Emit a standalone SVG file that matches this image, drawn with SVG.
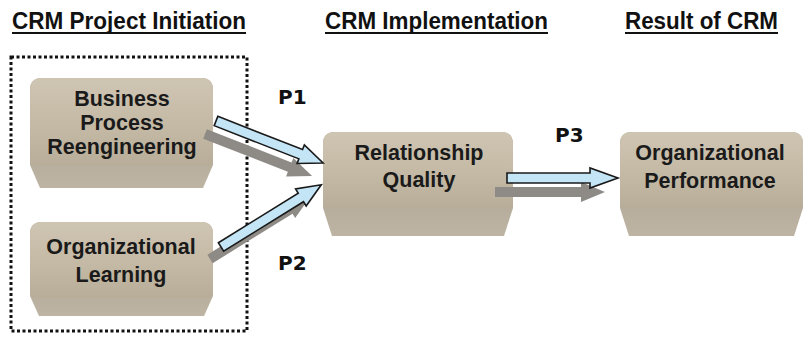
<svg xmlns="http://www.w3.org/2000/svg" width="806" height="337" viewBox="0 0 806 337">
<defs>
<linearGradient id="face" x1="0" y1="0" x2="0" y2="1">
<stop offset="0" stop-color="#cfc5b3"/>
<stop offset="0.6" stop-color="#c3b8a3"/>
<stop offset="1" stop-color="#b8ad98"/>
</linearGradient>
<linearGradient id="side" x1="0" y1="0" x2="0" y2="1">
<stop offset="0" stop-color="#a59b8a"/>
<stop offset="1" stop-color="#bdb4a4"/>
</linearGradient>
</defs>
<style>
.title{font-family:"Liberation Sans",Arial,sans-serif;font-weight:bold;font-size:23px;fill:#111}
.ul{stroke:#111;stroke-width:2}
.lbl{font-family:"Liberation Sans",Arial,sans-serif;font-weight:bold;font-size:21.5px;fill:#1a1a1a;text-anchor:middle}
.p{font-family:"DejaVu Sans",Verdana,sans-serif;font-weight:bold;font-size:20px;fill:#111}
.face{fill:url(#face)}
.side{fill:url(#side)}
.blue{fill:#c3e5f6;stroke:#1a1a1a;stroke-width:1.6;stroke-linejoin:miter}
.shadow{fill:#8e8b87}
</style>
<rect width="806" height="337" fill="#fff"/>

<g id="titles">
<text class="title" x="12" y="29" textLength="234" lengthAdjust="spacingAndGlyphs">CRM Project Initiation</text>
<line class="ul" x1="12" y1="33" x2="246" y2="33"/>
<text class="title" x="325" y="29" textLength="223" lengthAdjust="spacingAndGlyphs">CRM Implementation</text>
<line class="ul" x1="325" y1="33" x2="548" y2="33"/>
<text class="title" x="625" y="29" textLength="153" lengthAdjust="spacingAndGlyphs">Result of CRM</text>
<line class="ul" x1="625" y1="33" x2="778" y2="33"/>
</g>

<rect id="group-box" x="11" y="57" width="236" height="274" fill="none" stroke="#111" stroke-width="3" stroke-dasharray="3 2.5"/>

<g id="bpr">
<path class="side" d="M42,78 H201 Q213,78 213,90 V165 L203,188 H40 L30,165 V90 Q30,78 42,78 Z"/>
<path class="face" d="M42,78 H201 Q213,78 213,90 V160 Q213,166 207,166 H36 Q30,166 30,160 V90 Q30,78 42,78 Z"/>
<text class="lbl" x="122" y="106">Business</text>
<text class="lbl" x="122" y="130">Process</text>
<text class="lbl" x="122" y="154">Reengineering</text>
</g>

<g id="ol">
<path class="side" d="M42,222 H201 Q213,222 213,234 V296 L204,316 H39 L30,296 V234 Q30,222 42,222 Z"/>
<path class="face" d="M42,222 H201 Q213,222 213,234 V292 Q213,298 207,298 H36 Q30,298 30,292 V234 Q30,222 42,222 Z"/>
<text class="lbl" x="121" y="254">Organizational</text>
<text class="lbl" x="121" y="282">Learning</text>
</g>

<g id="rq">
<path class="side" d="M335,132 H501 Q513,132 513,144 V208 L504,236 H332 L323,208 V144 Q323,132 335,132 Z"/>
<path class="face" d="M335,132 H501 Q513,132 513,144 V202 Q513,208 507,208 H329 Q323,208 323,202 V144 Q323,132 335,132 Z"/>
<text class="lbl" x="419" y="160">Relationship</text>
<text class="lbl" x="419" y="187">Quality</text>
</g>

<g id="op">
<path class="side" d="M632,132 H791 Q803,132 803,144 V208 L794,236 H629 L620,208 V144 Q620,132 632,132 Z"/>
<path class="face" d="M632,132 H791 Q803,132 803,144 V202 Q803,208 797,208 H626 Q620,208 620,202 V144 Q620,132 632,132 Z"/>
<text class="lbl" x="710" y="160">Organizational</text>
<text class="lbl" x="710" y="188">Performance</text>
</g>

<g id="connectors">
<g class="shadow">
<path d="M0,-5 H91 V-10 L115,0 L91,10 V5 H0 Z" transform="translate(205,134) rotate(21.4)"/>
<path d="M0,-5 H94 V-10 L118,0 L94,10 V5 H0 Z" transform="translate(210,259) rotate(-31.8)"/>
<path d="M0,-5 H86 V-10 L110,0 L86,10 V5 H0 Z" transform="translate(495,192)"/>
</g>
<path class="blue" d="M0,-5 H91 V-10 L115,0 L91,10 V5 H0 Z" transform="translate(216,121) rotate(21.4)"/>
<path class="blue" d="M0,-5 H94 V-10 L118,0 L94,10 V5 H0 Z" transform="translate(221,247) rotate(-31.8)"/>
<path class="blue" d="M0,-5 H83 V-10 L111,0 L83,10 V5 H0 Z" transform="translate(507,178)"/>
</g>

<g id="labels">
<text class="p" x="278" y="104">P1</text>
<text class="p" x="278" y="270">P2</text>
<text class="p" x="555" y="142">P3</text>
</g>
</svg>
